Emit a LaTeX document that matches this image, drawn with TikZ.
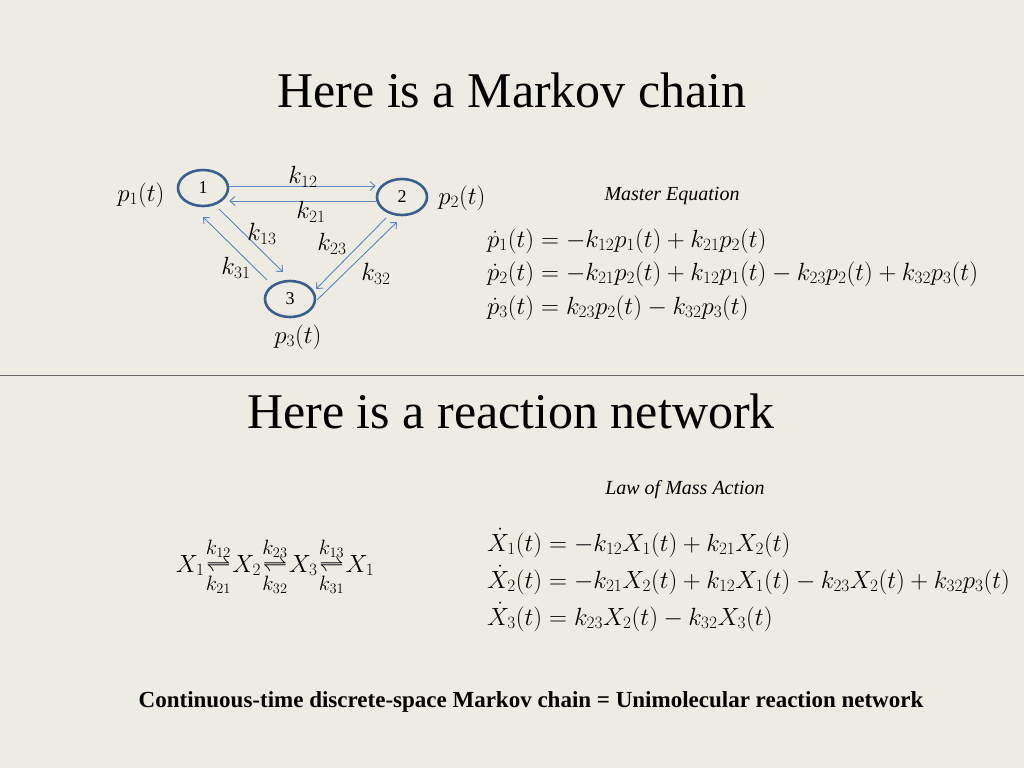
\documentclass[tikz,border=0pt]{standalone}
\usepackage{amsmath}
\usepackage{fontspec}
\setmainfont{Liberation Serif}
\usetikzlibrary{arrows.meta,shapes.geometric}
\definecolor{bg}{HTML}{EDEBE2}
\definecolor{arr}{HTML}{5B85C5}
\definecolor{circ}{HTML}{3A5F8F}
\newcommand{\rk}[1]{\text{\fontsize{22}{22}\selectfont$#1$}}
\begin{document}
\begin{tikzpicture}[x=1pt,y=-1pt,
  st/.style={draw=circ,line width=2.6pt,ellipse,minimum width=50pt,minimum height=36pt,inner sep=0pt,font=\fontsize{18}{20}\selectfont},
  ar/.style={draw=arr,line width=0.9pt,-{Straight Barb[length=5pt,width=9pt]}},
  eq/.style={anchor=west,inner sep=0pt,font=\fontsize{26}{30}\selectfont},
  lb/.style={inner sep=0pt,font=\fontsize{25}{30}\selectfont},
  title/.style={font=\fontsize{50}{56}\selectfont}]
\fill[bg] (0,0) rectangle (1024,768);
\useasboundingbox (0,0) rectangle (1024,768);
\node[title] (t1) at (512,90) {Here is a Markov chain};
\draw[gray!80!black,line width=1pt] (0,375) coordinate (la) -- (1024,375) coordinate (lb);
\node[title] (t2) at (511,411) {Here is a reaction network};
% graph
\node[st] (n1) at (203,188) {1};
\node[st] (n2) at (402,197) {2};
\node[st] (n3) at (290,299) {3};
\draw[ar] (n1.east |- 0,186) -- (n2.west |- 0,186);
\draw[ar] (n2.west |- 0,201) -- (n1.east |- 0,201);
\draw[ar] (219,209) -- (283,272);
\draw[ar] (267,280) -- (203,217);
\draw[ar] (386,218) -- (316,289);
\draw[ar] (317,300) -- (397,222);
\node[lb] (k12) at (303,177) {$k_{12}$};
\node[lb] (k21) at (311,212) {$k_{21}$};
\node[lb] (k13) at (262,234) {$k_{13}$};
\node[lb] (k23) at (332,244) {$k_{23}$};
\node[lb] (k31) at (236,268) {$k_{31}$};
\node[lb] (k32) at (376,274) {$k_{32}$};
\node[lb] (p1) at (141,195) {$p_1(t)$};
\node[lb] (p2) at (462,198) {$p_2(t)$};
\node[lb] (p3) at (298,337) {$p_3(t)$};
\node[font=\fontsize{20}{24}\selectfont\itshape] (me) at (672,196) {Master Equation};
\node[eq] (e1) at (487,241) {$\dot p_1(t)=-k_{12}p_1(t)+k_{21}p_2(t)$};
\node[eq] (e2) at (487,274) {$\dot p_2(t)=-k_{21}p_2(t)+k_{12}p_1(t)-k_{23}p_2(t)+k_{32}p_3(t)$};
\node[eq] (e3) at (487,308) {$\dot p_3(t)=k_{23}p_2(t)-k_{32}p_3(t)$};
% reaction
\node[font=\fontsize{20}{24}\selectfont\itshape] (lm) at (685,490) {Law of Mass Action};
\node[lb] (rx) at (275,567) {$X_1\mskip-4mu\underset{\rk{k_{21}}}{\overset{\rk{k_{12}}}{\rightleftharpoons}}\mskip-4mu X_2\mskip-4mu\underset{\rk{k_{32}}}{\overset{\rk{k_{23}}}{\rightleftharpoons}}\mskip-4mu X_3\mskip-4mu\underset{\rk{k_{31}}}{\overset{\rk{k_{13}}}{\rightleftharpoons}}\mskip-4mu X_1$};
\node[eq] (f1) at (487,543) {$\dot X_1(t)=-k_{12}X_1(t)+k_{21}X_2(t)$};
\node[eq] (f2) at (487,580) {$\dot X_2(t)=-k_{21}X_2(t)+k_{12}X_1(t)-k_{23}X_2(t)+k_{32}p_3(t)$};
\node[eq] (f3) at (487,617) {$\dot X_3(t)=k_{23}X_2(t)-k_{32}X_3(t)$};
\node[font=\fontsize{23}{26}\selectfont\bfseries] (bt) at (531,702) {Continuous-time discrete-space Markov chain = Unimolecular reaction network};
\end{tikzpicture}
\end{document}
